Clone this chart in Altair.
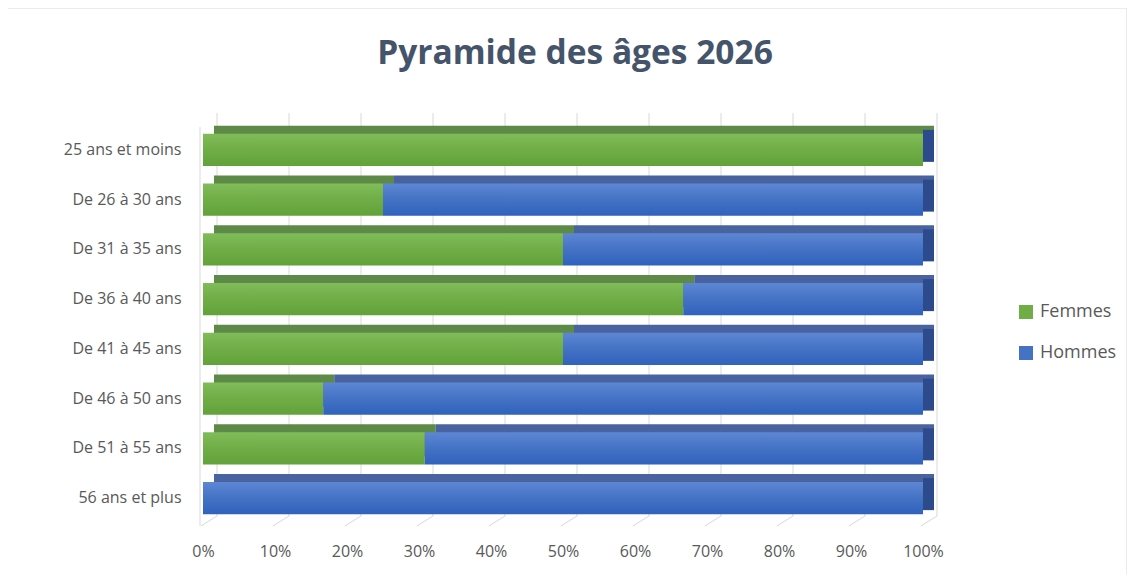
import altair as alt
import pandas as pd

categories = ["25 ans et moins", "De 26 à 30 ans", "De 31 à 35 ans", "De 36 à 40 ans",
              "De 41 à 45 ans", "De 46 à 50 ans", "De 51 à 55 ans", "56 ans et plus"]
femmes_pct = [100, 25, 50, 66.7, 50, 16.7, 30.8, 0]
hommes_pct = [0, 75, 50, 33.3, 50, 83.3, 69.2, 100]
series = ["Femmes", "Hommes"]
tick_values = [0, 10, 20, 30, 40, 50, 60, 70, 80, 90, 100]
title_text = "Pyramide des âges 2026"

rows = []
for c, f, h in zip(categories, femmes_pct, hommes_pct):
    rows.append({"cat": c, "serie": "Femmes", "start": 0, "end": f})
    rows.append({"cat": c, "serie": "Hommes", "start": f, "end": f + h})
df = pd.DataFrame(rows)
ticks_df = pd.DataFrame({"v": tick_values})
ends_df = pd.DataFrame({"cat": categories, "end": [f + h for f, h in zip(femmes_pct, hommes_pct)]})

FONT = "Open Sans"
LABEL_COLOR = "#595959"

xscale = alt.Scale(domain=[0, 100], nice=False, zero=True)
yscale = alt.Scale(domain=categories, paddingInner=0.356, paddingOuter=0.178)

x_axis = alt.Axis(values=tick_values, labelExpr="datum.value + '%'", domain=False, ticks=False,
                  grid=False, labelPadding=20, labelFontSize=16, labelColor=LABEL_COLOR,
                  labelFont=FONT, title=None, labelFlush=False, labelOverlap=False)
y_axis = alt.Axis(domain=False, ticks=False, grid=False, labelPadding=22, labelFontSize=16,
                  labelColor=LABEL_COLOR, labelFont=FONT, title=None)

X = alt.X("start:Q", scale=xscale, axis=x_axis)
X2 = alt.X2("end:Q")
Y = alt.Y("cat:N", scale=yscale, sort=categories, axis=y_axis)

one = pd.DataFrame({"a": [0]})

# frame around the whole chart
frame = alt.Chart(one).mark_rect(
    fill="white", fillOpacity=0, stroke="#D9D9D9", strokeWidth=1
).encode(x=alt.value(-196), x2=alt.value(924), y=alt.value(-117), y2=alt.value(460))

title = alt.Chart(one).mark_text(
    text=title_text, font=FONT, fontSize=33.5, fontWeight="bold", color="#44546A",
    align="center", baseline="middle"
).encode(x=alt.value(372), y=alt.value(-71))

# back gridlines
grid = alt.Chart(ticks_df).mark_rule(color="#D9D9D9", strokeWidth=1, xOffset=14).encode(
    x=alt.X("v:Q", scale=xscale, axis=x_axis), y=alt.value(-12), y2=alt.value(391)
)
# floor lines
floor = alt.Chart(ticks_df).mark_rule(color="#D9D9D9", strokeWidth=1, xOffset=-2, x2Offset=14).encode(
    x=alt.X("v:Q", scale=xscale, axis=x_axis), x2=alt.X2("v:Q"), y=alt.value(401), y2=alt.value(391)
)
# left wall
wall = alt.Chart(pd.DataFrame({"v": [0]})).mark_rule(color="#D9D9D9", strokeWidth=1, xOffset=-3).encode(
    x=alt.X("v:Q", scale=xscale, axis=x_axis), y=alt.value(2), y2=alt.value(401)
)

back_f = alt.Chart(df).transform_filter(alt.datum.serie == "Femmes").mark_bar(
    xOffset=11, x2Offset=11, yOffset=-8, color="#5E8A47").encode(x=X, x2=X2, y=Y)
back_h = alt.Chart(df).transform_filter(alt.datum.serie == "Hommes").mark_bar(
    xOffset=11, x2Offset=11, yOffset=-8, color="#4863A0").encode(x=X, x2=X2, y=Y)

side = alt.Chart(ends_df).mark_tick(thickness=11, size=32, xOffset=5.5, yOffset=-4,
                                    color="#2C4A8C", opacity=1).encode(
    x=alt.X("end:Q", scale=xscale, axis=x_axis), y=Y
)

green_grad = {"gradient": "linear", "x1": 0, "x2": 0, "y1": 0, "y2": 1,
              "stops": [{"offset": 0, "color": "#80BD5A"}, {"offset": 0.5, "color": "#70AD47"},
                        {"offset": 1, "color": "#62A23A"}]}
blue_grad = {"gradient": "linear", "x1": 0, "x2": 0, "y1": 0, "y2": 1,
             "stops": [{"offset": 0, "color": "#5D87D4"}, {"offset": 0.5, "color": "#4472C4"},
                       {"offset": 1, "color": "#3062BD"}]}

front_f = alt.Chart(df).transform_filter(alt.datum.serie == "Femmes").mark_bar(
    color=green_grad).encode(x=X, x2=X2, y=Y)
front_h = alt.Chart(df).transform_filter(alt.datum.serie == "Hommes").mark_bar(
    color=blue_grad).encode(x=X, x2=X2, y=Y)

front_colors = alt.Scale(domain=series, range=["#70AD47", "#4472C4"])
legend_layer = alt.Chart(df).mark_square(opacity=0, filled=True).encode(
    x=X, y=Y,
    color=alt.Color("serie:N", scale=front_colors,
                    legend=alt.Legend(title=None, orient="none", legendX=814, legendY=178,
                                      symbolType="square", symbolSize=196, symbolOpacity=1,
                                      symbolStrokeWidth=0, labelFontSize=18, labelFont=FONT,
                                      labelColor=LABEL_COLOR, rowPadding=23, labelOffset=5)),
)

chart = alt.layer(frame, title, grid, floor, wall, back_f, back_h, side, front_f, front_h,
                  legend_layer).properties(
    width=720, height=398,
    autosize=alt.AutoSizeParams(type="none"),
    padding={"left": 195, "top": 117, "right": 204, "bottom": 51},
).configure_view(stroke=None)

chart.save("out.html", embed_options={"renderer": "svg", "actions": False})
